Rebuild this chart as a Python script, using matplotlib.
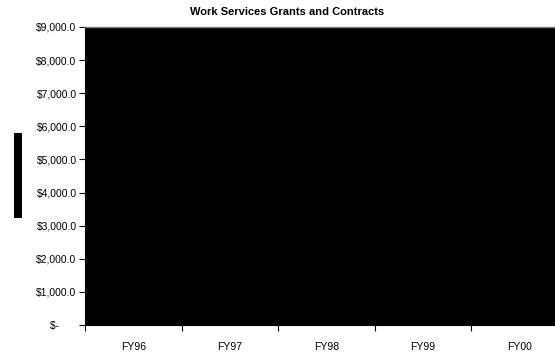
import matplotlib
matplotlib.use("Agg")
import matplotlib.pyplot as plt
from matplotlib.patches import Rectangle
from matplotlib.ticker import FuncFormatter

plt.rcParams['font.family'] = ['Liberation Sans', 'DejaVu Sans']

title = "Work Services Grants and Contracts"
categories = ["FY96", "FY97", "FY98", "FY99", "FY00"]
y_ticks = [0, 1000, 2000, 3000, 4000, 5000, 6000, 7000, 8000, 9000]

W, H = 555, 352
fig = plt.figure(figsize=(W / 100, H / 100), dpi=100)
fig.patch.set_facecolor("white")

# plot area extends past the right edge of the canvas
x0, x1 = 85, 568
y0, y1 = 27, 325
ax = fig.add_axes([x0 / W, 1 - y1 / H, (x1 - x0) / W, (y1 - y0) / H])
ax.set_facecolor("black")

n = len(categories)
ax.set_xlim(0, n)
ax.set_ylim(0, 9000)

ax.set_xticks(range(n))
ax.set_xticks([i + 0.5 for i in range(n)], minor=True)
ax.set_xticklabels([])
ax.set_xticklabels(categories, minor=True)
ax.tick_params(axis="x", which="major", length=4, width=0.8, color="black", direction="out")
ax.tick_params(axis="x", which="minor", length=0, pad=12, labelsize=7.5)


def money(v, pos):
    # accounting-style: zero shown as a dash with trailing padding
    if v == 0:
        return "$-      "
    return f"${v:,.1f}"


ax.set_yticks(y_ticks)
ax.yaxis.set_major_formatter(FuncFormatter(money))
ax.tick_params(axis="y", length=4, width=0.8, color="black", direction="out", labelsize=7.5, pad=2)

ax.spines["right"].set_visible(False)
ax.spines["top"].set_color("#808080")
ax.spines["top"].set_linewidth(1.0)
ax.spines["left"].set_color("black")
ax.spines["bottom"].set_color("black")

fig.text(287 / W, 1 - 12 / H, title, ha="center", va="center", fontsize=8, fontweight="bold")

# legend box
fig.patches.append(Rectangle((14 / W, 1 - 218 / H), 8 / W, 85 / H,
                             transform=fig.transFigure, facecolor="black", edgecolor="none"))

fig.savefig("out.png", dpi=100)
